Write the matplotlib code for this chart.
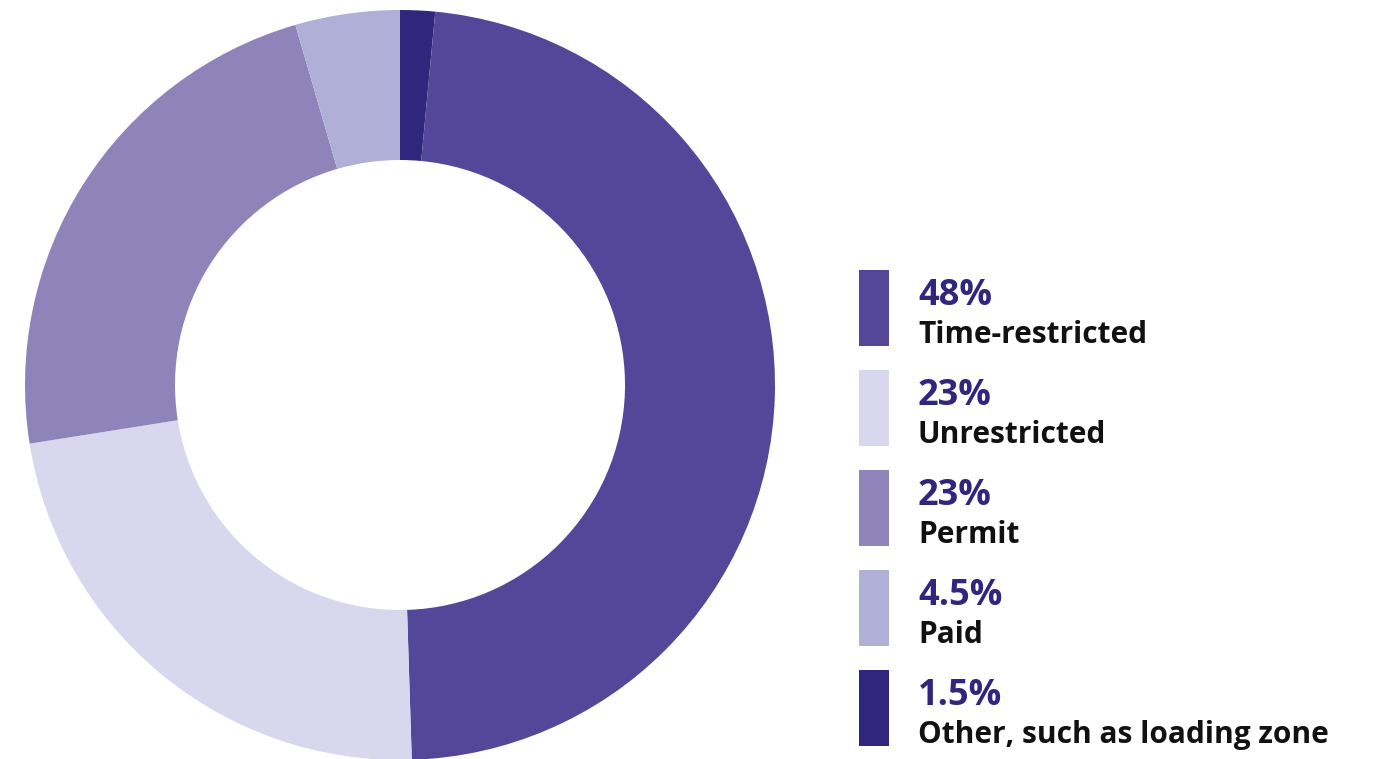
import matplotlib.pyplot as plt
from matplotlib.patches import Rectangle

# Data, clockwise from 12 o'clock
categories = ["Other, such as loading zone", "Time-restricted", "Unrestricted", "Permit", "Paid"]
shares = [1.5, 48, 23, 23, 4.5]
share_labels = ["1.5%", "48%", "23%", "23%", "4.5%"]
colors = ["#30267E", "#54479A", "#D9D7EE", "#8E84B9", "#B0AFD7"]

# Legend order as shown on the right
legend_order = [1, 2, 3, 4, 0]

W, H = 1376, 759
fig = plt.figure(figsize=(W / 100, H / 100), dpi=100)

# Donut
cx, cy, R = 400, 385, 375
ax = fig.add_axes([(cx - R) / W, (H - cy - R) / H, 2 * R / W, 2 * R / H])
ax.pie(shares, colors=colors, startangle=90, counterclock=False,
       wedgeprops=dict(width=0.4, edgecolor="none"))
ax.set_xlim(-1, 1)
ax.set_ylim(-1, 1)
ax.set_aspect("equal")
ax.axis("off")

# Legend
def fx(px):
    return px / W

def fy(py):
    return 1 - py / H

for row, i in enumerate(legend_order):
    top = 270 + row * 100
    fig.add_artist(Rectangle((fx(859), fy(top + 76)), 30 / W, 76 / H,
                             transform=fig.transFigure, color=colors[i], lw=0))
    fig.text(fx(918), fy(top + 35), share_labels[i], color="#30267E",
             fontsize=26, fontweight="bold", family="Open Sans", va="baseline")
    fig.text(fx(918), fy(top + 73), categories[i], color="#111111",
             fontsize=21.5, fontweight="bold", family="Open Sans", va="baseline")

fig.savefig("out.png", dpi=100)
